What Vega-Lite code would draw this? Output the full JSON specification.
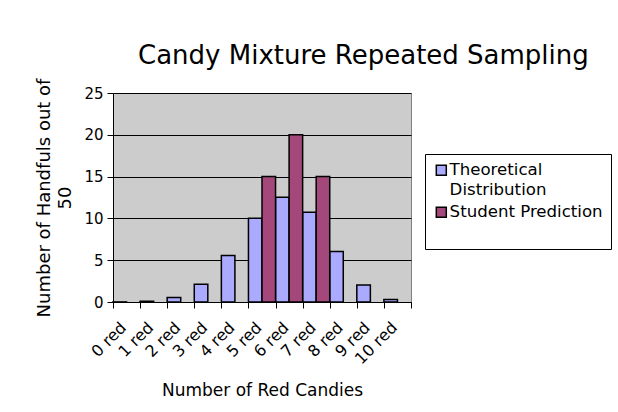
{
  "$schema": "https://vega.github.io/schema/vega-lite/v6.json",
  "autosize": {"type": "none"},
  "width": 298,
  "height": 209,
  "padding": {"left": 113, "top": 93, "right": 207, "bottom": 110},
  "background": "white",
  "title": {
    "text": "Candy Mixture Repeated Sampling",
    "anchor": "start",
    "frame": "group",
    "dx": 25,
    "fontSize": 26,
    "font": "DejaVu Sans",
    "fontWeight": "normal",
    "color": "black",
    "offset": 9
  },
  "data": {
    "values": [
      {"cat": "0 red", "series": "Theoretical Distribution", "value": 0.01},
      {"cat": "1 red", "series": "Theoretical Distribution", "value": 0.08},
      {"cat": "2 red", "series": "Theoretical Distribution", "value": 0.53},
      {"cat": "3 red", "series": "Theoretical Distribution", "value": 2.12},
      {"cat": "4 red", "series": "Theoretical Distribution", "value": 5.57},
      {"cat": "5 red", "series": "Theoretical Distribution", "value": 10.03},
      {"cat": "6 red", "series": "Theoretical Distribution", "value": 12.54},
      {"cat": "7 red", "series": "Theoretical Distribution", "value": 10.75},
      {"cat": "8 red", "series": "Theoretical Distribution", "value": 6.05},
      {"cat": "9 red", "series": "Theoretical Distribution", "value": 2.02},
      {"cat": "10 red", "series": "Theoretical Distribution", "value": 0.3},
      {"cat": "5 red", "series": "Student Prediction", "value": 15},
      {"cat": "6 red", "series": "Student Prediction", "value": 20},
      {"cat": "7 red", "series": "Student Prediction", "value": 15}
    ]
  },
  "mark": {"type": "bar", "stroke": "black", "strokeWidth": 1.5},
  "encoding": {
    "x": {
      "field": "cat",
      "type": "nominal",
      "sort": ["0 red", "1 red", "2 red", "3 red", "4 red", "5 red", "6 red", "7 red", "8 red", "9 red", "10 red"],
      "scale": {"paddingInner": 0, "paddingOuter": 0},
      "axis": {
        "title": "Number of Red Candies",
        "labelAngle": -45,
        "labelFontSize": 16,
        "labelPadding": 11,
        "labelOffset": -9,
        "tickBand": "extent",
        "tickSize": 6,
        "titlePadding": 16
      }
    },
    "xOffset": {
      "field": "series",
      "type": "nominal",
      "sort": ["Theoretical Distribution", "Student Prediction"],
      "scale": {"paddingInner": 0, "paddingOuter": 0}
    },
    "y": {
      "field": "value",
      "type": "quantitative",
      "scale": {"domain": [0, 25], "nice": false},
      "axis": {
        "title": ["Number of Handfuls out of", "50"],
        "values": [0, 5, 10, 15, 20, 25],
        "grid": true,
        "gridColor": "black",
        "gridOpacity": 1,
        "titlePadding": 9,
        "titleFontSize": 18,
        "titleLineHeight": 21
      }
    },
    "color": {
      "field": "series",
      "type": "nominal",
      "sort": ["Theoretical Distribution", "Student Prediction"],
      "scale": {"domain": ["Theoretical Distribution", "Student Prediction"], "range": ["#AAAAFF", "#A4477A"]},
      "legend": {
        "title": null,
        "orient": "none",
        "legendX": 312,
        "legendY": 61,
        "direction": "vertical",
        "strokeColor": "black",
        "fillColor": "white",
        "padding": 8,
        "symbolType": "square",
        "symbolSize": 100,
        "symbolStrokeColor": "black",
        "symbolStrokeWidth": 1.5,
        "symbolOpacity": 1,
        "labelFontSize": 16.6,
        "labelFont": "DejaVu Sans",
        "labelColor": "black",
        "labelLimit": 0,
        "labelOffset": 0,
        "rowPadding": 5,
        "labelExpr": "datum.label == 'Theoretical Distribution' ? ['Theoretical', 'Distribution'] : ['Student Prediction', '']"
      }
    }
  },
  "config": {
    "font": "DejaVu Sans",
    "style": {"guide-label": {"lineHeight": 20}},
    "view": {"fill": "#CCCCCC", "stroke": "#808080", "strokeWidth": 1},
    "axis": {
      "labelFontSize": 15,
      "labelFont": "DejaVu Sans",
      "labelColor": "black",
      "titleFontSize": 17,
      "titleFont": "DejaVu Sans",
      "titleFontWeight": "normal",
      "titleColor": "black",
      "domainColor": "black",
      "tickColor": "black",
      "tickSize": 6,
      "labelPadding": 4
    }
  }
}
